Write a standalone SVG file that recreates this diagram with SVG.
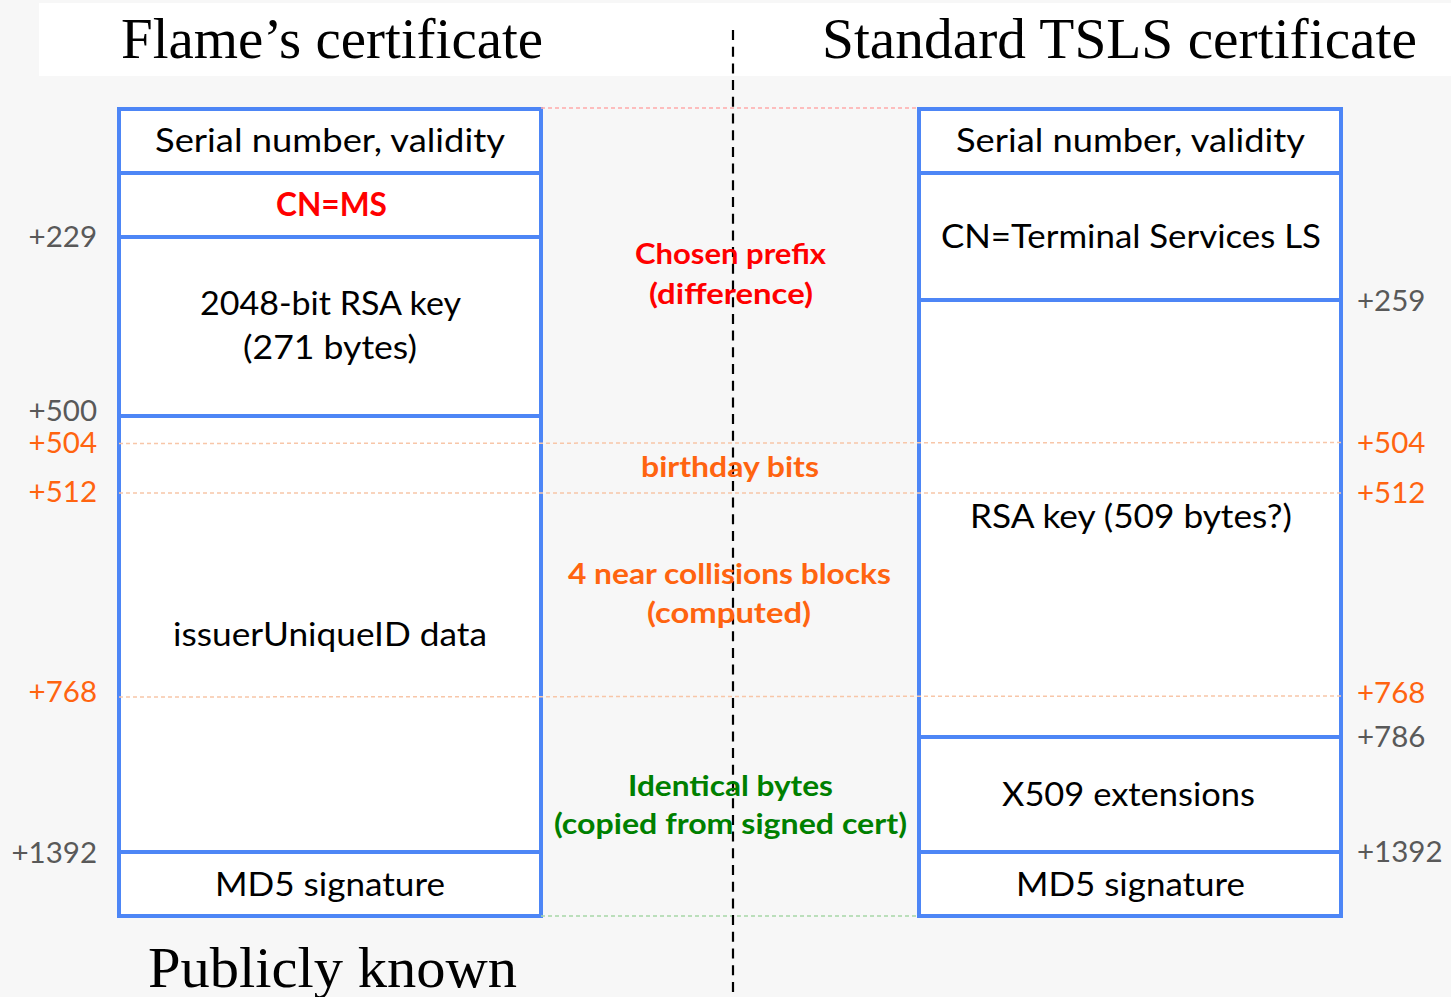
<svg xmlns="http://www.w3.org/2000/svg" width="1451" height="997" viewBox="0 0 1451 997">
  <style>
    .title { font-family: "Liberation Serif", "DejaVu Serif", serif; font-size: 56px; fill: #000; }
    .box { fill: #ffffff; stroke: #4d86f6; stroke-width: 4; }
    .div { stroke: #4d86f6; stroke-width: 4; }
    .body { font-family: Lato, "Open Sans", sans-serif; font-size: 32px; fill: #000; }
    .mid { font-family: Lato, "Open Sans", sans-serif; font-size: 29px; font-weight: bold; }
    .off { font-family: Lato, "Open Sans", sans-serif; font-size: 29.5px; fill: #595959; }
    .offL { text-anchor: end; }
    .orange { fill: #ff6410; }
    .red { fill: #ff0000; }
    .green { fill: #008000; }
    .guide { fill: none; stroke-width: 1.5; stroke-dasharray: 4 3; }
  </style>

  <!-- page background and title band -->
  <rect x="0" y="0" width="1451" height="997" fill="#f7f7f7"/>
  <rect x="39" y="3" width="1412" height="73" fill="#ffffff"/>

  <text class="title" x="121" y="58" textLength="422" lengthAdjust="spacingAndGlyphs">Flame’s certificate</text>
  <text class="title" x="822" y="58" textLength="595" lengthAdjust="spacingAndGlyphs">Standard TSLS certificate</text>
  <text class="title" x="148" y="987" textLength="369" lengthAdjust="spacingAndGlyphs">Publicly known</text>

  <!-- Flame certificate layout -->
  <g id="flame-cert">
    <rect class="box" x="119" y="109" width="422" height="807"/>
    <line class="div" x1="119" y1="173" x2="541" y2="173"/>
    <line class="div" x1="119" y1="237" x2="541" y2="237"/>
    <line class="div" x1="119" y1="416" x2="541" y2="416"/>
    <line class="div" x1="119" y1="852" x2="541" y2="852"/>
    <text class="body" x="155" y="152" textLength="350" lengthAdjust="spacingAndGlyphs">Serial number, validity</text>
    <text class="body red" x="276" y="216" font-weight="bold" textLength="111" lengthAdjust="spacingAndGlyphs">CN=MS</text>
    <text class="body" x="200" y="315" textLength="261" lengthAdjust="spacingAndGlyphs">2048-bit RSA key</text>
    <text class="body" x="243" y="359" textLength="174" lengthAdjust="spacingAndGlyphs">(271 bytes)</text>
    <text class="body" x="173" y="646" textLength="314" lengthAdjust="spacingAndGlyphs">issuerUniqueID data</text>
    <text class="body" x="215" y="896" textLength="230" lengthAdjust="spacingAndGlyphs">MD5 signature</text>
  </g>

  <!-- Standard TSLS certificate layout -->
  <g id="tsls-cert">
    <rect class="box" x="919" y="109" width="422" height="807"/>
    <line class="div" x1="919" y1="173" x2="1341" y2="173"/>
    <line class="div" x1="919" y1="300" x2="1341" y2="300"/>
    <line class="div" x1="919" y1="737" x2="1341" y2="737"/>
    <line class="div" x1="919" y1="852" x2="1341" y2="852"/>
    <text class="body" x="956" y="152" textLength="349" lengthAdjust="spacingAndGlyphs">Serial number, validity</text>
    <text class="body" x="941" y="248" textLength="380" lengthAdjust="spacingAndGlyphs">CN=Terminal Services LS</text>
    <text class="body" x="970" y="528" textLength="322" lengthAdjust="spacingAndGlyphs">RSA key (509 bytes?)</text>
    <text class="body" x="1002" y="806" textLength="253" lengthAdjust="spacingAndGlyphs">X509 extensions</text>
    <text class="body" x="1016" y="896" textLength="229" lengthAdjust="spacingAndGlyphs">MD5 signature</text>
  </g>

  <!-- offset guides and the centre divider -->
  <g id="connectors">
    <line class="guide" x1="541" y1="108" x2="919" y2="108" stroke="#ffaaaa"/>
    <line class="guide" x1="119" y1="443.5" x2="1341" y2="442.5" stroke="#f8c6a8"/>
    <line class="guide" x1="119" y1="493" x2="1341" y2="493" stroke="#f8c6a8"/>
    <line class="guide" x1="119" y1="697" x2="1341" y2="696" stroke="#f8c6a8"/>
    <line class="guide" x1="541" y1="916" x2="919" y2="916" stroke="#a8d8a8" stroke-dasharray="3 3"/>
    <line x1="733" y1="30" x2="733" y2="994" stroke="#000" stroke-width="2.2" stroke-dasharray="10 6.7"/>
  </g>

  <!-- region labels -->
  <g id="region-labels">
    <text class="mid red" x="635" y="264" textLength="191" lengthAdjust="spacingAndGlyphs">Chosen prefix</text>
    <text class="mid red" x="649" y="304" textLength="164" lengthAdjust="spacingAndGlyphs">(difference)</text>
    <text class="mid orange" x="641" y="477" textLength="178" lengthAdjust="spacingAndGlyphs">birthday bits</text>
    <text class="mid orange" x="568" y="584" textLength="323" lengthAdjust="spacingAndGlyphs">4 near collisions blocks</text>
    <text class="mid orange" x="647" y="623" textLength="164" lengthAdjust="spacingAndGlyphs">(computed)</text>
    <text class="mid green" x="628" y="796" textLength="205" lengthAdjust="spacingAndGlyphs">Identical bytes</text>
    <text class="mid green" x="554" y="834" textLength="353" lengthAdjust="spacingAndGlyphs">(copied from signed cert)</text>
  </g>

  <!-- byte offsets -->
  <g id="offsets-left">
    <text class="off offL" x="97" y="247">+229</text>
    <text class="off offL" x="97" y="421">+500</text>
    <text class="off offL orange" x="97" y="453">+504</text>
    <text class="off offL orange" x="97" y="502">+512</text>
    <text class="off offL orange" x="97" y="702">+768</text>
    <text class="off offL" x="97" y="863">+1392</text>
  </g>
  <g id="offsets-right">
    <text class="off" x="1357" y="311">+259</text>
    <text class="off orange" x="1357" y="453">+504</text>
    <text class="off orange" x="1357" y="503">+512</text>
    <text class="off orange" x="1357" y="703">+768</text>
    <text class="off" x="1357" y="747">+786</text>
    <text class="off" x="1357" y="862">+1392</text>
  </g>
</svg>
